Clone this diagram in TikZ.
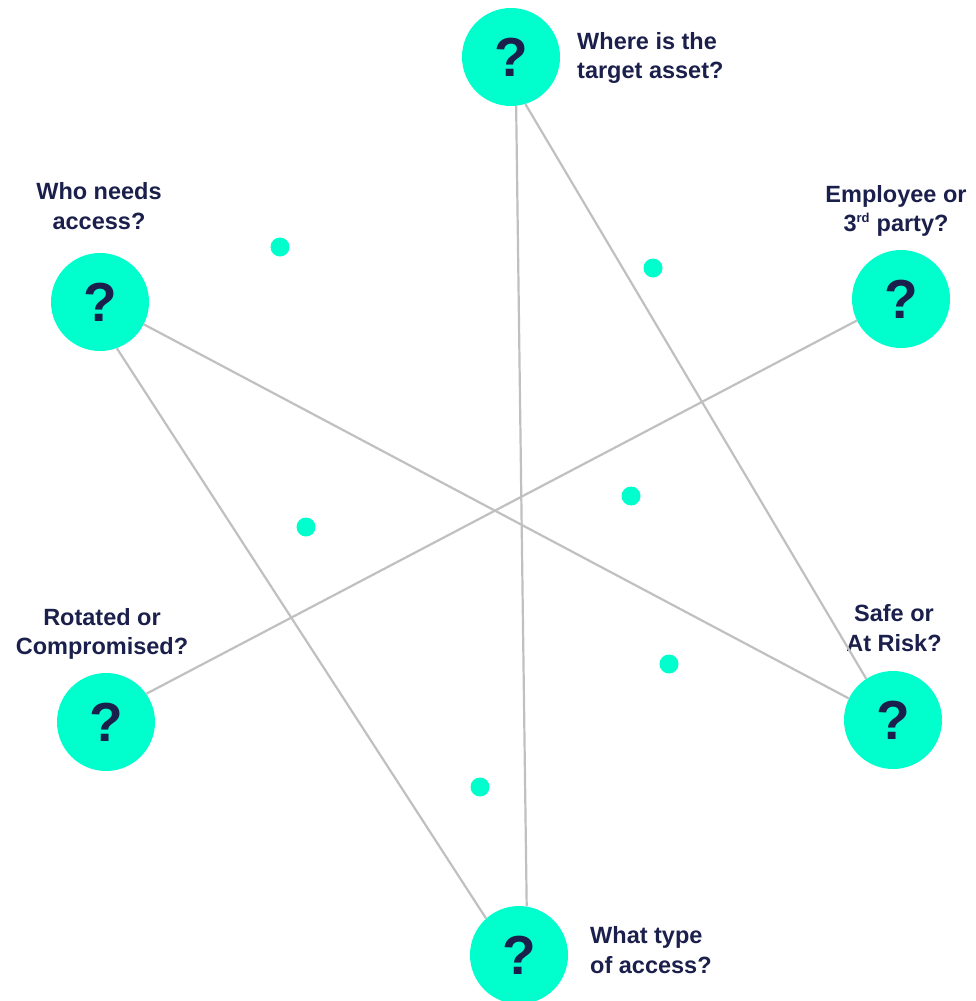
\documentclass[tikz,border=0pt]{standalone}
\usepackage{fontspec}
\setmainfont{Liberation Sans}
\usetikzlibrary{positioning}

\definecolor{qturq}{HTML}{00FFCC}
\definecolor{qnavy}{HTML}{1B1F4B}
\definecolor{qgray}{HTML}{C0C0C0}

\tikzset{
  qcircle/.style={circle, fill=qturq, minimum size=98pt, inner sep=0pt,
    text=qnavy, font=\bfseries\fontsize{55}{55}\selectfont},
  qlabel/.style={text=qnavy, font=\bfseries\fontsize{23.5}{29.5}\selectfont, inner sep=0pt},
  qdot/.style={fill=qturq},
  qlink/.style={draw=qgray, line width=2.2pt}
}

\begin{document}
\begin{tikzpicture}[x=1pt, y=-1pt]
  \useasboundingbox (0,0) rectangle (976,1001);

  % Question circles
  \node[qcircle] (asset)    at (511,57)  {?};
  \node[qcircle] (party)    at (901,299) {?};
  \node[qcircle] (who)      at (100,302) {?};
  \node[qcircle] (rotated)  at (106,722) {?};
  \node[qcircle] (risk)     at (893,720) {?};
  \node[qcircle] (type)     at (519,955) {?};

  % Labels
  \node[qlabel, anchor=west, align=left] (assetlbl) at (577,58) {Where is the\\target asset?};
  \node[qlabel, align=center] (partylbl) at (896,211) {Employee or\\3\textsuperscript{\fontsize{13}{13}\selectfont rd} party?};
  \node[qlabel, align=center] (wholbl) at (99,206) {Who needs\\access?};
  \node[qlabel, align=center] (rotatedlbl) at (102,634) {Rotated or\\Compromised?};
  \node[qlabel, align=center] (risklbl) at (894,628) {Safe or\\At Risk?};
  \node[qlabel, anchor=west, align=left] (typelbl) at (590,950) {What type\\of access?};

  % Connecting lines
  \draw[qlink] (asset.-84) -- (type.81);
  \draw[qlink] (asset.-73) -- (risk.123);
  \draw[qlink] (who.-27) -- (risk.154);
  \draw[qlink] (who.-70) -- (type.132);
  \draw[qlink] (party.206) -- (rotated.35);

  % Small dots
  \fill[qdot] (280,247) circle (9.5pt);
  \fill[qdot] (653,268) circle (9.5pt);
  \fill[qdot] (631,496) circle (9.5pt);
  \fill[qdot] (306,527) circle (9.5pt);
  \fill[qdot] (669,664) circle (9.5pt);
  \fill[qdot] (480,787) circle (9.5pt);
\end{tikzpicture}
\end{document}
